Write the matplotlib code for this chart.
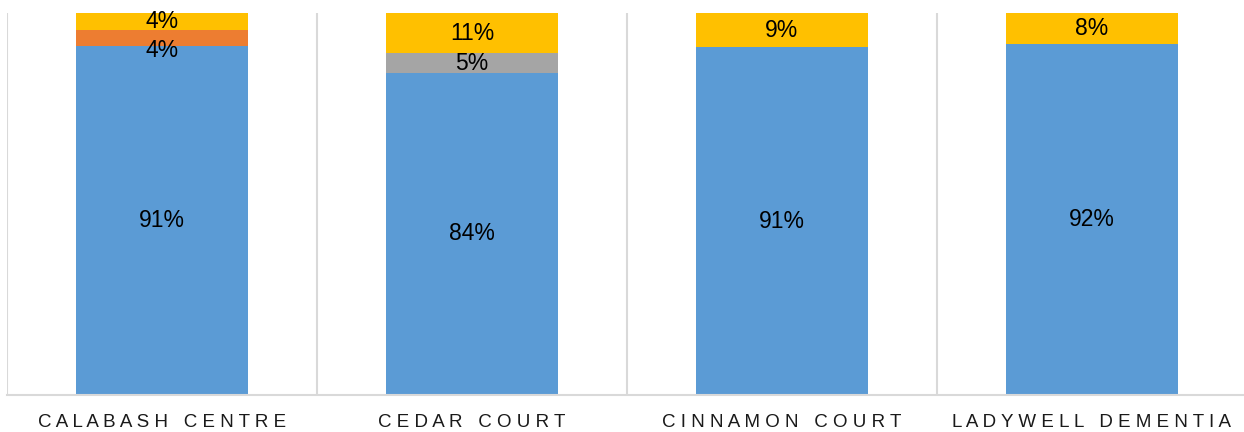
import matplotlib.pyplot as plt
import numpy as np

plt.rcParams['font.family'] = ['Liberation Sans', 'DejaVu Sans']

# data (percent)
sites = ['Calabash Centre', 'Cedar Court', 'Cinnamon Court', 'Ladywell Dementia']
blue = [91.3, 84.3, 91, 92]
orange = [4.35, 0, 0, 0]
grey = [0, 5.1, 0, 0]
yellow = [4.35, 10.6, 9, 8]

series = [blue, orange, grey, yellow]
colors = ['#5B9BD5', '#ED7D31', '#A5A5A5', '#FFC000']

fig = plt.figure(figsize=(12.44, 4.32), dpi=100)
ax = fig.add_axes([7 / 1244, 37 / 432, 1240 / 1244, 382 / 432])

x = np.arange(len(sites))
bottom = np.zeros(len(sites))
for i, (vals, col) in enumerate(zip(series, colors)):
    vals = np.array(vals, dtype=float)
    ax.bar(x, vals, 0.555, bottom=bottom, color=col, zorder=2)
    for j, v in enumerate(vals):
        if v <= 0:
            continue
        yc = bottom[j] + v / 2
        dy = -9 if (i == 1 and j == 0) else 0  # excel pushed this one down
        ax.annotate(f'{round(v):.0f}%', (x[j], yc), xytext=(0, dy),
                    textcoords='offset points', ha='center', va='center',
                    fontsize=16.5, color='black', zorder=3)
    bottom += vals

ax.set_xlim(-0.5, len(sites) - 0.5)
ax.set_ylim(0, 100)
ax.set_yticks([])

# letter-spaced, upper case category labels
ax.set_xticks(x)
ax.set_xticklabels([' '.join(s.upper()) for s in sites], fontsize=13.5, color='#1a1a1a')
ax.tick_params(axis='x', length=0, pad=13.5)

# separators between categories
ax.set_xticks(np.arange(-0.5, len(sites)), minor=True)
ax.tick_params(axis='x', which='minor', length=0)
ax.grid(axis='x', which='minor', color='#D9D9D9', linewidth=1.5, zorder=0)

for s in ['top', 'right', 'left']:
    ax.spines[s].set_visible(False)
ax.spines['bottom'].set_color('#D9D9D9')
ax.spines['bottom'].set_linewidth(1.5)

fig.savefig('out.png', dpi=100)
